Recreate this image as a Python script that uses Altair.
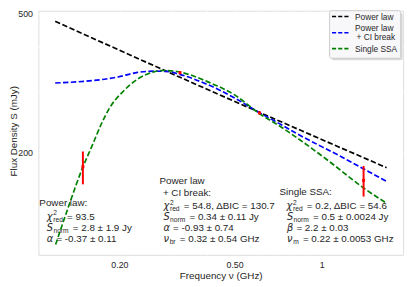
import altair as alt
import pandas as pd

# ---------------- data ----------------
models = ["Power law", "Power law + CI break", "Single SSA"]
model_colors = ["#000000", "#0000FF", "#008000"]

pl_freq = [0.120, 0.400, 1.675]
pl_flux = [475.0, 304.0, 181.0]

br_freq = [0.120, 0.198, 0.231, 0.263, 0.292, 0.323, 0.399, 0.504, 0.604, 0.728, 0.805, 1.160, 1.675]
br_flux = [316.3, 329.2, 339.2, 342.0, 341.4, 334.9, 314.3, 285.6, 261.3, 239.9, 228.6, 195.1, 165.3]

ssa_freq = [0.1204, 0.1338, 0.1496, 0.1605, 0.1735, 0.1857, 0.2056, 0.2310, 0.2563, 0.2845,
            0.3157, 0.3549, 0.3990, 0.5043, 0.6048, 0.7278, 0.8054, 1.0585, 1.3985, 1.6640]
ssa_flux = [109.0, 141.0, 181.9, 207.9, 242.2, 269.8, 298.7, 324.5, 338.1, 343.6,
            341.4, 332.8, 320.3, 291.1, 259.6, 236.0, 222.9, 189.0, 158.1, 143.7]

obs_freq = [0.1496, 0.324, 0.610, 1.395]
obs_flux = [182.2, 338.6, 259.7, 166.4]
obs_lo = [162.2, 335.5, 257.5, 149.6]
obs_hi = [201.4, 341.7, 261.9, 183.0]

x_ticks = [0.2, 0.3, 0.4, 0.5, 0.6, 0.7, 0.8, 0.9, 1.0]
y_ticks = [200, 300, 400, 500]
x_domain = [0.105, 1.91]
y_domain = [101.9, 509.6]

legend_labels = [["Power law"], ["Power law", " + CI break"], ["Single SSA"]]

# ---------------- layout ----------------
PAD_L, PAD_T = 31, 0
W, H = 372, 249
PLOT_L, PLOT_T = 8 + PAD_L, 8 + PAD_T
FONT = "Liberation Sans"
MATH = "DejaVu Sans"
INK = "#262626"
DASH = [5.5, 2.5]

curves = pd.concat([
    pd.DataFrame({"freq": pl_freq, "flux": pl_flux, "model": models[0]}),
    pd.DataFrame({"freq": br_freq, "flux": br_flux, "model": models[1]}),
    pd.DataFrame({"freq": ssa_freq, "flux": ssa_flux, "model": models[2]}),
])
obs = pd.DataFrame({"freq": obs_freq, "flux": obs_flux, "lo": obs_lo, "hi": obs_hi})

xscale = alt.Scale(type="log", domain=x_domain, nice=False, zero=False)
yscale = alt.Scale(type="log", domain=y_domain, nice=False, zero=False)

xaxis = alt.Axis(values=x_ticks, grid=True, gridColor="white", gridWidth=1, ticks=False, tickSize=0,
                 domain=False, labelFont=FONT, labelFontSize=9, labelColor=INK, labelPadding=6,
                 labelExpr="datum.value == 0.2 ? '0.20' : datum.value == 0.5 ? '0.50' : datum.value == 1 ? '1' : ''",
                 title="Frequency \u03bd (GHz)", titleFont=FONT, titleFontSize=10, titleFontWeight="normal",
                 titleColor=INK, titleY=278 - 257, titleBaseline="middle")
yaxis = alt.Axis(values=y_ticks, grid=True, gridColor="white", gridWidth=1, ticks=False, tickSize=0,
                 domain=False, labelFont=FONT, labelFontSize=9, labelColor=INK, labelPadding=6,
                 labelExpr="datum.value == 200 || datum.value == 500 ? datum.label : ''",
                 title="Flux Density S (mJy)", titleFont=FONT, titleFontSize=10, titleFontWeight="normal",
                 titleColor=INK, titleX=13.5 - PLOT_L, titleY=(257 - 4) / 2 + 4 - PLOT_T,
                 titleAngle=270, titleBaseline="middle", titleAlign="center")

lines = alt.Chart(curves).mark_line(strokeDash=DASH, strokeWidth=1.7, interpolate="monotone").encode(
    x=alt.X("freq:Q", scale=xscale, axis=xaxis),
    y=alt.Y("flux:Q", scale=yscale, axis=yaxis),
    color=alt.Color("model:N", scale=alt.Scale(domain=models, range=model_colors), legend=None),
)

errbars = alt.Chart(obs).mark_rule(color="red", strokeWidth=2).encode(
    x="freq:Q", y="lo:Q", y2="hi:Q")
pts = alt.Chart(obs).mark_square(color="red", size=9, opacity=1).encode(x="freq:Q", y="flux:Q")

# ---------------- annotation text ----------------
ARIAL = {' ': .278, '.': .278, ',': .278, ':': .278, '=': .584, '\u00b1': .549, '-': .333, '+': .584,
         '\u0394': .65, 'A': .667, 'B': .667, 'C': .722, 'G': .778, 'H': .722, 'I': .278, 'J': .5,
         'P': .667, 'S': .667, 'a': .556, 'b': .556, 'e': .556, 'i': .222, 'k': .5, 'l': .222,
         'n': .556, 'o': .556, 'r': .333, 'w': .722, 'y': .5, 'z': .5, 'g': .556, 'm': .833, 'd': .556,
         '2': .556}
GREEK = {'\u03c7': .62, '\u03b1': .66, '\u03b2': .64, '\u03bd': .59, 'S': .635}
SUB = 6.8
SUB_DY, SUP_DY = 3.2, -3.8


def width(s, table, size):
    return sum(table.get(c, .556) for c in s) * size


def el(x):
    return x - PLOT_L


def et(y):
    return y - PLOT_T


pieces = []  # (text, page_x, page_y, font, size, style)


def add_line(x0, y, segs):
    x = x0
    for kind, s in segs:
        if kind == "txt":
            stripped = s.lstrip(" ")
            x += width(s[:len(s) - len(stripped)], ARIAL, 10)
            pieces.append((stripped, x, y, FONT, 10, "normal"))
            x += width(stripped, ARIAL, 10)
        elif kind == "sym":
            pieces.append((s, x, y, MATH, 10, "italic"))
            x += width(s, GREEK, 10) + 0.5
        elif kind == "sub":
            pieces.append((s, x, y + SUB_DY, FONT, SUB, "normal"))
            x += width(s, ARIAL, SUB) + 1.5
        elif kind == "supsub":
            sup, sub = s
            pieces.append((sup, x, y + SUP_DY, FONT, SUB, "normal"))
            pieces.append((sub, x, y + SUB_DY, FONT, SUB, "normal"))
            x += max(width(sup, ARIAL, SUB), width(sub, ARIAL, SUB)) + 1.5


CHI, ALPHA, BETA, NU = "\u03c7", "\u03b1", "\u03b2", "\u03bd"

# left block
add_line(40, 204.5, [("txt", "Power law:")])
add_line(47.5, 218, [("sym", CHI), ("supsub", ("2", "red")), ("txt", " = 93.5")])
add_line(47.5, 229.5, [("sym", "S"), ("sub", "norm"), ("txt", " = 2.8 \u00b1 1.9 Jy")])
add_line(47.5, 240.5, [("sym", ALPHA), ("txt", " = -0.37 \u00b1 0.11")])
# middle block
add_line(162.5, 181.5, [("txt", "Power law")])
add_line(166, 194, [("txt", "+ CI break:")])
add_line(166.5, 207.5, [("sym", CHI), ("supsub", ("2", "red")), ("txt", " = 54.8, \u0394BIC = 130.7")])
add_line(166.5, 218.5, [("sym", "S"), ("sub", "norm"), ("txt", " = 0.34 \u00b1 0.11 Jy")])
add_line(166.5, 230, [("sym", ALPHA), ("txt", " = -0.93 \u00b1 0.74")])
add_line(166.5, 240.5, [("sym", NU), ("sub", "br"), ("txt", " = 0.32 \u00b1 0.54 GHz")])
# right block
add_line(285, 193.5, [("txt", "Single SSA:")])
add_line(292, 207.5, [("sym", CHI), ("supsub", ("2", "red")), ("txt", " = 0.2, \u0394BIC = 54.6")])
add_line(292.5, 218.5, [("sym", "S"), ("sub", "norm"), ("txt", " = 0.5 \u00b1 0.0024 Jy")])
add_line(292.5, 230, [("sym", BETA), ("txt", " = 2.2 \u00b1 0.03")])
add_line(292.5, 240.5, [("sym", NU), ("sub", "m"), ("txt", " = 0.22 \u00b1 0.0053 GHz")])

text_layers = []
for t, px, py, font, size, style in pieces:
    text_layers.append(
        alt.Chart(alt.Data(values=[{"t": t}])).mark_text(
            align="left", baseline="middle", font=font, fontSize=size, fontStyle=style, color=INK
        ).encode(text="t:N", x=alt.value(el(px)), y=alt.value(et(py)))
    )

# ---------------- legend (drawn by hand, top right) ----------------
one = alt.Data(values=[{"a": 1}])
legend_layers = [
    alt.Chart(one).mark_rect(color="#000000", opacity=0.15, cornerRadius=2).encode(
        x=alt.value(el(338)), x2=alt.value(el(410.5)), y=alt.value(et(10)), y2=alt.value(et(58.5))),
    alt.Chart(one).mark_rect(fill="#F8F8FA", stroke="#CCCCCC", strokeWidth=1, cornerRadius=2).encode(
        x=alt.value(el(336)), x2=alt.value(el(408.5)), y=alt.value(et(8)), y2=alt.value(et(56.5))),
]
sym_y = [14, 30.5, 46.7]
for lbl, col, sy in zip(legend_labels, model_colors, sym_y):
    legend_layers.append(
        alt.Chart(one).mark_rule(stroke=col, strokeWidth=1.6, strokeDash=[4.2, 2.1]).encode(
            x=alt.value(el(338.5)), x2=alt.value(el(356)), y=alt.value(et(sy)), y2=alt.value(et(sy))))
    n = len(lbl)
    for i, s in enumerate(lbl):
        ly = sy + (i - (n - 1) / 2) * 9
        legend_layers.append(
            alt.Chart(alt.Data(values=[{"t": s.strip()}])).mark_text(
                align="left", baseline="middle", font=FONT, fontSize=8.5, color=INK
            ).encode(text="t:N", x=alt.value(el(362 + (1.5 if s.startswith(" ") else 0))), y=alt.value(et(ly))))

chart = alt.layer(*text_layers, lines, errbars, pts, *legend_layers).properties(
    width=W, height=H,
    autosize=alt.AutoSizeParams(type="none"),
    padding={"left": PAD_L, "top": PAD_T, "right": 4, "bottom": 26},
).configure_view(fill="#EAEAF2", stroke=None).configure(background="white")

chart.save("out.html", embed_options={"renderer": "svg", "actions": False})
